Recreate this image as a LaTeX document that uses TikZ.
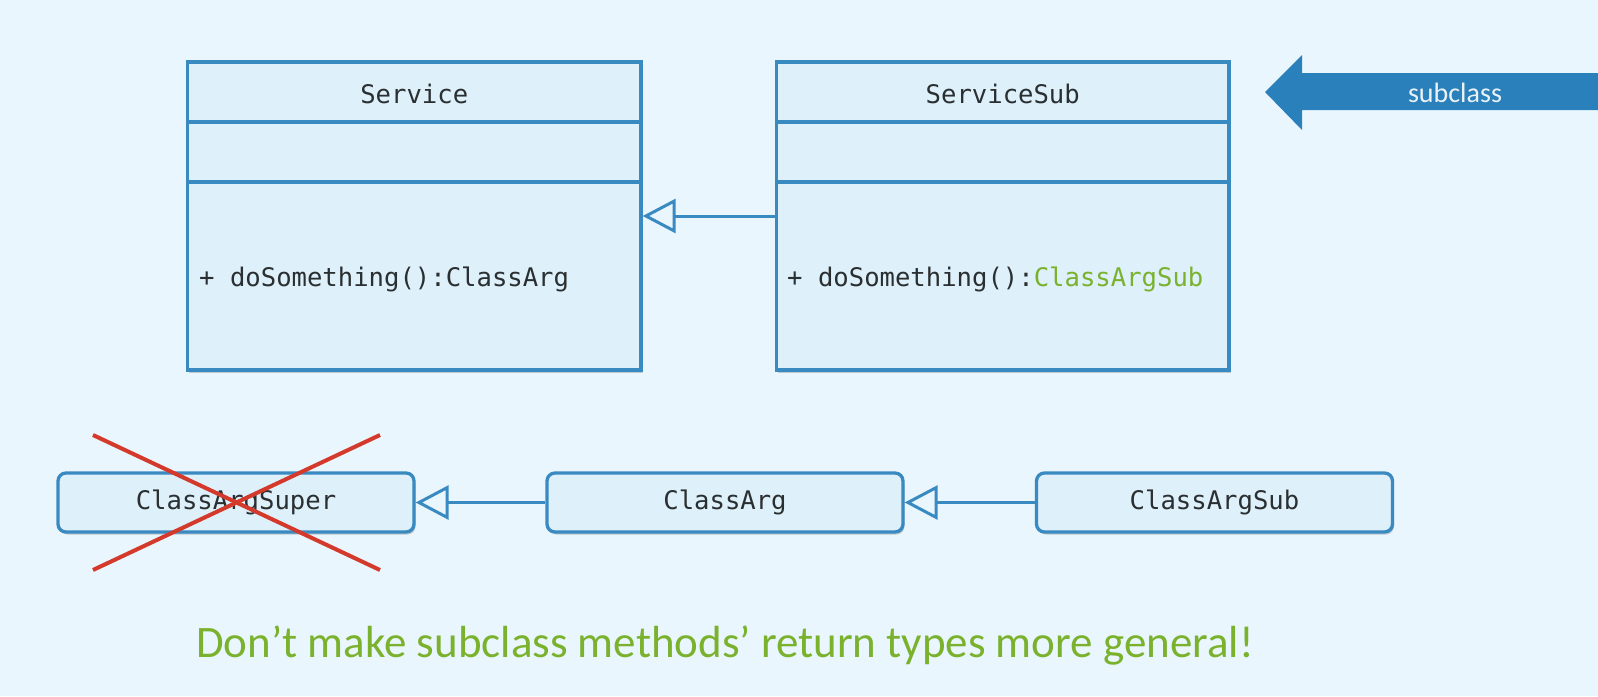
\documentclass[tikz,border=0pt]{standalone}
\usepackage{fontspec}
\setmainfont{Carlito}
\newfontfamily\monof{DejaVu Sans Mono}
\usetikzlibrary{arrows.meta,shadows}
\definecolor{bgc}{HTML}{EAF6FD}
\definecolor{boxfill}{HTML}{DEF0FA}
\definecolor{boxline}{HTML}{3A8AC2}
\definecolor{bigarrow}{HTML}{2A80BA}
\definecolor{txtc}{HTML}{2A2F31}
\definecolor{greenc}{HTML}{7AB22E}
\definecolor{crossc}{HTML}{D43A2C}
\begin{document}
\begin{tikzpicture}[x=1pt,y=-1pt,
  umlbox/.style={draw=boxline, line width=3.3pt, fill=boxfill, inner sep=0pt,
    drop shadow={shadow xshift=1.5pt, shadow yshift=-2.5pt, opacity=0.18, fill=black}},
  classbox/.style={umlbox, rounded corners=8pt, minimum width=356pt, minimum height=59pt,
    font=\monof\fontsize{25.6}{30}\selectfont, text=txtc},
  monotext/.style={font=\monof\fontsize{25.6}{30}\selectfont, text=txtc, inner sep=0pt},
  divider/.style={draw=boxline, line width=3.3pt},
  inherit/.style={draw=boxline, line width=3pt,
    -{Triangle[open, length=33pt, width=34pt, line width=3pt]}},
  cross/.style={draw=crossc, line width=4pt}
]
\fill[bgc] (0,0) rectangle (1598,696);
\path[use as bounding box] (0,0) rectangle (1598,696);

% UML classes
\node[umlbox, minimum width=453.5pt, minimum height=308pt] (service) at (414.25,216) {};
\node[umlbox, minimum width=452.5pt, minimum height=308pt] (servicesub) at (1002.75,216) {};
\draw[divider] (service.west |- 0,122) -- (service.east |- 0,122);
\draw[divider] (service.west |- 0,182) -- (service.east |- 0,182);
\draw[divider] (servicesub.west |- 0,122) -- (servicesub.east |- 0,122);
\draw[divider] (servicesub.west |- 0,182) -- (servicesub.east |- 0,182);
\node[monotext] (servicetitle) at (414.25,94) {Service};
\node[monotext] (servicesubtitle) at (1002.75,94) {ServiceSub};
\node[monotext, anchor=west] (servicemeth) at (199,279) {+ doSomething():ClassArg};
\node[monotext, anchor=west] (servicesubmeth) at (787,279) {+ doSomething():\textcolor{greenc}{ClassArgSub}};
\draw[inherit] (servicesub.west) -- (service.east);

% subclass arrow
\fill[bigarrow] (1265,92) -- (1302,55) -- (1302,73) -- (1600,73) -- (1600,110) -- (1302,110) -- (1302,130) -- cycle;
\node[text=white!90!bigarrow, font=\fontsize{28}{32}\selectfont] (subclasslabel) at (1455,93) {subclass};

% bottom row
\node[classbox] (argsuper) at (236,502.5) {ClassArgSuper};
\node[classbox] (arg) at (725,502.5) {ClassArg};
\node[classbox] (argsub) at (1214.5,502.5) {ClassArgSub};
\draw[inherit] (arg.west) -- (argsuper.east);
\draw[inherit] (argsub.west) -- (arg.east);

% red cross
\draw[cross] (93,435) -- (380,570);
\draw[cross] (93,570) -- (380,435);

% bottom message
\node[text=greenc, font=\fontsize{45}{50}\selectfont] (message) at (725,645) {Don’t make subclass methods’ return types more general!};
\end{tikzpicture}
\end{document}
